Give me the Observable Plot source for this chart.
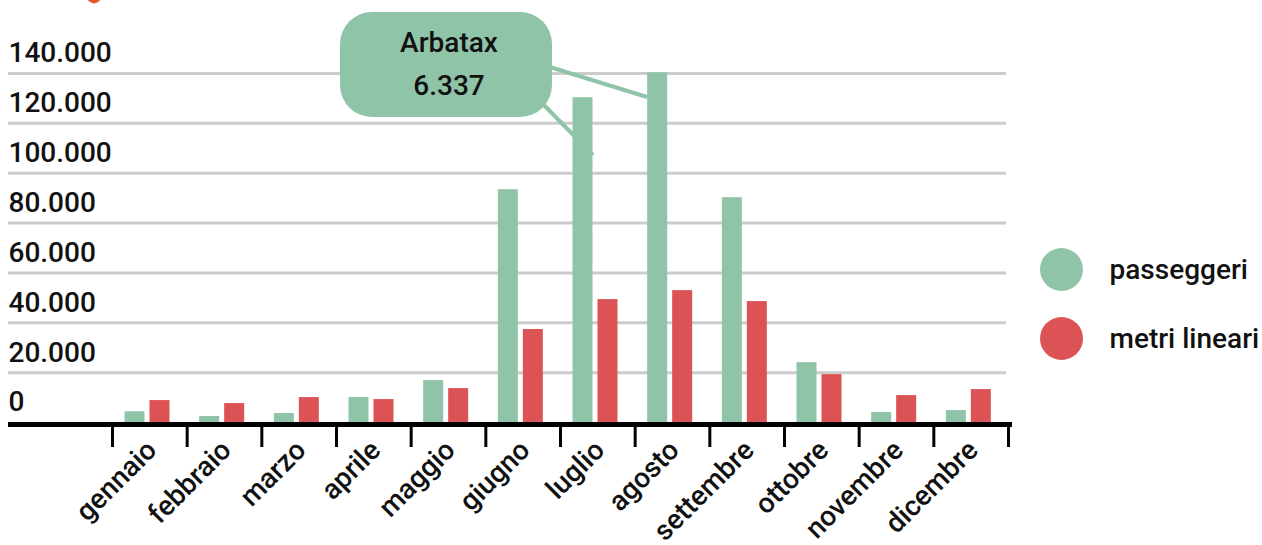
<!DOCTYPE html>
<html><head><meta charset="utf-8">
<script src="https://cdn.jsdelivr.net/npm/d3@7"></script>
<script src="https://cdn.jsdelivr.net/npm/@observablehq/plot@0.6"></script>
<style>
body{margin:0;background:#fff;}
#chart{width:1262px;height:545px;overflow:hidden;}
#chart svg{font-family:Roboto, sans-serif;overflow:visible;}
</style></head><body><div id="chart"></div>
<script>
const months = ["gennaio","febbraio","marzo","aprile","maggio","giugno","luglio","agosto","settembre","ottobre","novembre","dicembre"];
const passeggeri = [4300, 2400, 3600, 10000, 16800, 93400, 130300, 140300, 90200, 24000, 4000, 4800];
const metriLineari = [8800, 7600, 10000, 9200, 13600, 37300, 49300, 52900, 48500, 19200, 10800, 13200];
const seriesNames = ["passeggeri", "metri lineari"];
const seriesColors = ["#8fc4a8", "#dc5356"];
const yTicks = [0, 20000, 40000, 60000, 80000, 100000, 120000, 140000];
const annotationText = ["Arbatax", "6.337"];

const data = months.flatMap((m, i) => [
  {month: m, serie: seriesNames[0], value: passeggeri[i]},
  {month: m, serie: seriesNames[1], value: metriLineari[i]}
]);

const itFmt = d3.formatLocale({decimal: ",", thousands: ".", grouping: [3], currency: ["€", ""]}).format(",d");

const W = 1262, H = 545, X0 = 112, X1 = 1008, Y0 = 422, Y1 = 73;
const bw = (X1 - X0) / months.length;
const FS = 28, FW = 500;

const plot = Plot.plot({
  width: W, height: H, margin: 0,
  x: {type: "band", domain: months, range: [X0, X1], padding: 0, round: false, axis: null},
  y: {domain: [0, 140000], range: [Y0, Y1], axis: null},
  color: {domain: seriesNames, range: seriesColors},
  style: {fontFamily: "Roboto, sans-serif", fontSize: FS + "px", fontWeight: FW, color: "#111", background: "#fff", overflow: "visible"},
  marks: [
    Plot.ruleY(yTicks.filter(d => d > 0), {y: d => d, stroke: "#cccccc", strokeWidth: 3, insetLeft: 8, insetRight: W - X1 + 2}),
    Plot.barY(data.filter(d => d.serie === seriesNames[0]), {x: "month", y: "value", fill: "serie", insetLeft: 12.5, insetRight: bw - 32.5}),
    Plot.barY(data.filter(d => d.serie === seriesNames[1]), {x: "month", y: "value", fill: "serie", insetLeft: 37.5, insetRight: bw - 57.5}),
    Plot.ruleY([0], {y: d => d, stroke: "#000", strokeWidth: 5, dy: 2, insetLeft: 8, insetRight: W - 1012}),
    Plot.ruleX(months, {x: d => d, dx: -bw / 2, stroke: "#000", strokeWidth: 3, insetTop: 425, insetBottom: H - 447}),
    Plot.ruleX([months[months.length - 1]], {x: d => d, dx: bw / 2, stroke: "#000", strokeWidth: 3, insetTop: 425, insetBottom: H - 447}),
    Plot.text(yTicks, {y: d => d, text: d => itFmt(d), frameAnchor: "left", dx: 8, dy: -20, textAnchor: "start", lineAnchor: "middle", fill: "#111", fontSize: FS, fontWeight: FW}),
    Plot.text(months, {x: d => d, text: d => d, frameAnchor: "top", dx: 2, dy: 445, rotate: -45, textAnchor: "end", lineAnchor: "middle", fill: "#111", fontSize: FS, fontWeight: FW}),
    ...seriesNames.map((s, i) => Plot.dot([s], {fill: d => d, r: 21.5, frameAnchor: "top-left", dx: 1061, dy: 269 + 69 * i, stroke: null})),
    ...seriesNames.map((s, i) => Plot.text([s], {text: d => d, frameAnchor: "top-left", dx: 1109, dy: 270 + 69 * i, textAnchor: "start", lineAnchor: "middle", fill: "#111", fontSize: FS, fontWeight: FW}))
  ]
});
document.getElementById("chart").appendChild(plot);

// decorative cut-off orange marker at the top
const svg = d3.select(plot);
svg.append("circle").attr("cx", 94).attr("cy", -3.6).attr("r", 7).attr("fill", "#e8562a");

// annotation callout
const ann = svg.append("g");
const green = seriesColors[0];
ann.append("line").attr("x1", 540).attr("y1", 64).attr("x2", 647).attr("y2", 97).attr("stroke", green).attr("stroke-width", 4);
ann.append("line").attr("x1", 535).attr("y1", 96).attr("x2", 593).attr("y2", 155).attr("stroke", green).attr("stroke-width", 4);
ann.append("rect").attr("x", 340).attr("y", 12).attr("width", 212).attr("height", 105).attr("rx", 32).attr("fill", green);
ann.append("text").attr("x", 449).attr("y", 52).attr("text-anchor", "middle").attr("font-size", FS).attr("font-weight", FW).attr("fill", "#111").text(annotationText[0]);
ann.append("text").attr("x", 449).attr("y", 95).attr("text-anchor", "middle").attr("font-size", FS).attr("font-weight", FW).attr("fill", "#111").text(annotationText[1]);
</script>
</body></html>
